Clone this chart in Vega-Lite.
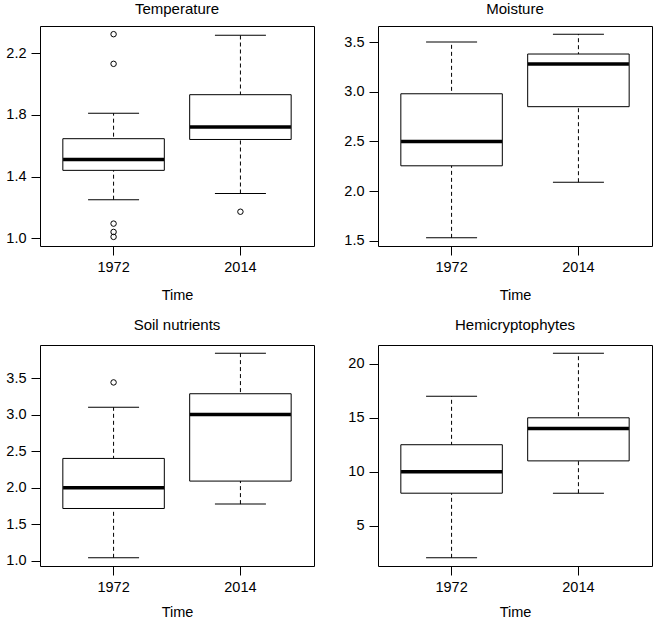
{
  "$schema": "https://vega.github.io/schema/vega-lite/v6.json",
  "padding": {"left": 3, "top": 1, "right": 2, "bottom": 0},
  "background": "white",
  "datasets": {
    "box": [
      {"panel": "Temperature", "time": "1972", "lo": 1.25, "q1": 1.44, "med": 1.51, "q3": 1.645, "hi": 1.81},
      {"panel": "Temperature", "time": "2014", "lo": 1.29, "q1": 1.64, "med": 1.72, "q3": 1.93, "hi": 2.315},
      {"panel": "Moisture", "time": "1972", "lo": 1.53, "q1": 2.255, "med": 2.5, "q3": 2.98, "hi": 3.5},
      {"panel": "Moisture", "time": "2014", "lo": 2.09, "q1": 2.85, "med": 3.28, "q3": 3.38, "hi": 3.58},
      {"panel": "Soil nutrients", "time": "1972", "lo": 1.04, "q1": 1.715, "med": 2.0, "q3": 2.4, "hi": 3.1},
      {"panel": "Soil nutrients", "time": "2014", "lo": 1.775, "q1": 2.09, "med": 3.0, "q3": 3.285, "hi": 3.84},
      {"panel": "Hemicryptophytes", "time": "1972", "lo": 2, "q1": 8, "med": 10, "q3": 12.5, "hi": 17},
      {"panel": "Hemicryptophytes", "time": "2014", "lo": 8, "q1": 11, "med": 14, "q3": 15, "hi": 21}
    ],
    "out": [
      {"panel": "Temperature", "time": "1972", "value": 2.322},
      {"panel": "Temperature", "time": "1972", "value": 2.13},
      {"panel": "Temperature", "time": "1972", "value": 1.095},
      {"panel": "Temperature", "time": "1972", "value": 1.041},
      {"panel": "Temperature", "time": "1972", "value": 1.009},
      {"panel": "Temperature", "time": "2014", "value": 1.172},
      {"panel": "Soil nutrients", "time": "1972", "value": 3.44}
    ]
  },
  "config": {
    "font": "Liberation Sans",
    "view": {"stroke": "black", "strokeWidth": 1},
    "title": {"fontSize": 15, "fontWeight": "normal", "color": "black", "offset": 9, "font": "Liberation Sans"},
    "axis": {
      "grid": false, "domain": false, "tickColor": "black", "tickSize": 9, "tickWidth": 1,
      "labelFontSize": 14.5, "labelColor": "black", "labelFont": "Liberation Sans",
      "titleFontSize": 14.5, "titleFontWeight": "normal", "titleColor": "black", "titleFont": "Liberation Sans"
    },
    "axisX": {"labelAngle": 0, "labelPadding": 5, "titlePadding": 15},
    "axisY": {"labelPadding": 5, "title": null, "minExtent": 36, "maxExtent": 36},
    "tick": {"opacity": 1},
    "point": {"opacity": 1}
  },
  "columns": 2,
  "spacing": {"row": 14, "column": 26},
  "concat": [
    {
      "title": {"text": "Temperature", "offset": 9},
      "width": 274, "height": 220,
      "encoding": {
        "x": {"field": "time", "type": "nominal", "title": "Time", "scale": {"type": "band", "paddingInner": 0.2, "paddingOuter": 0.18}, "axis": {"titlePadding": 15}}
      },
      "layer": [
        {"data": {"name": "box"}, "transform": [{"filter": "datum.panel == 'Temperature'"}],
         "mark": {"type": "rule", "color": "black", "strokeWidth": 1, "strokeDash": [4, 3]},
         "encoding": {"y": {"field": "lo", "type": "quantitative", "title": null, "scale": {"domain": [0.95, 2.375], "nice": false, "zero": false},
           "axis": {"values": [1.0, 1.2, 1.4, 1.6, 1.8, 2.0, 2.2], "labelExpr": "round(datum.value*10) % 4 == 0 ? '' : format(datum.value, '.1f')"}},
           "y2": {"field": "hi"}}},
        {"data": {"name": "box"}, "transform": [{"filter": "datum.panel == 'Temperature'"}],
         "mark": {"type": "tick", "color": "black", "size": 51, "thickness": 1, "opacity": 1},
         "encoding": {"y": {"field": "lo", "type": "quantitative"}}},
        {"data": {"name": "box"}, "transform": [{"filter": "datum.panel == 'Temperature'"}],
         "mark": {"type": "tick", "color": "black", "size": 51, "thickness": 1, "opacity": 1},
         "encoding": {"y": {"field": "hi", "type": "quantitative"}}},
        {"data": {"name": "box"}, "transform": [{"filter": "datum.panel == 'Temperature'"}],
         "mark": {"type": "bar", "fill": "white", "stroke": "black", "strokeWidth": 1, "opacity": 1},
         "encoding": {"y": {"field": "q1", "type": "quantitative"}, "y2": {"field": "q3"}}},
        {"data": {"name": "box"}, "transform": [{"filter": "datum.panel == 'Temperature'"}],
         "mark": {"type": "tick", "color": "black", "size": 101, "thickness": 3.5, "opacity": 1},
         "encoding": {"y": {"field": "med", "type": "quantitative"}}},
        {"data": {"name": "out"}, "transform": [{"filter": "datum.panel == 'Temperature'"}],
         "mark": {"type": "point", "shape": "circle", "filled": false, "stroke": "black", "strokeWidth": 1, "size": 30, "opacity": 1},
         "encoding": {"y": {"field": "value", "type": "quantitative"}}}
      ]
    },
    {
      "title": {"text": "Moisture", "offset": 9},
      "width": 274, "height": 220,
      "encoding": {
        "x": {"field": "time", "type": "nominal", "title": "Time", "scale": {"type": "band", "paddingInner": 0.2, "paddingOuter": 0.18}, "axis": {"titlePadding": 15}}
      },
      "layer": [
        {"data": {"name": "box"}, "transform": [{"filter": "datum.panel == 'Moisture'"}],
         "mark": {"type": "rule", "color": "black", "strokeWidth": 1, "strokeDash": [4, 3]},
         "encoding": {"y": {"field": "lo", "type": "quantitative", "title": null, "scale": {"domain": [1.448, 3.662], "nice": false, "zero": false},
           "axis": {"values": [1.5, 2.0, 2.5, 3.0, 3.5], "format": ".1f"}},
           "y2": {"field": "hi"}}},
        {"data": {"name": "box"}, "transform": [{"filter": "datum.panel == 'Moisture'"}],
         "mark": {"type": "tick", "color": "black", "size": 51, "thickness": 1, "opacity": 1},
         "encoding": {"y": {"field": "lo", "type": "quantitative"}}},
        {"data": {"name": "box"}, "transform": [{"filter": "datum.panel == 'Moisture'"}],
         "mark": {"type": "tick", "color": "black", "size": 51, "thickness": 1, "opacity": 1},
         "encoding": {"y": {"field": "hi", "type": "quantitative"}}},
        {"data": {"name": "box"}, "transform": [{"filter": "datum.panel == 'Moisture'"}],
         "mark": {"type": "bar", "fill": "white", "stroke": "black", "strokeWidth": 1, "opacity": 1},
         "encoding": {"y": {"field": "q1", "type": "quantitative"}, "y2": {"field": "q3"}}},
        {"data": {"name": "box"}, "transform": [{"filter": "datum.panel == 'Moisture'"}],
         "mark": {"type": "tick", "color": "black", "size": 101, "thickness": 3.5, "opacity": 1},
         "encoding": {"y": {"field": "med", "type": "quantitative"}}}
      ]
    },
    {
      "title": {"text": "Soil nutrients", "offset": 12},
      "width": 274, "height": 221,
      "encoding": {
        "x": {"field": "time", "type": "nominal", "title": "Time", "scale": {"type": "band", "paddingInner": 0.2, "paddingOuter": 0.18}, "axis": {"titlePadding": 12}}
      },
      "layer": [
        {"data": {"name": "box"}, "transform": [{"filter": "datum.panel == 'Soil nutrients'"}],
         "mark": {"type": "rule", "color": "black", "strokeWidth": 1, "strokeDash": [4, 3]},
         "encoding": {"y": {"field": "lo", "type": "quantitative", "title": null, "scale": {"domain": [0.928, 3.952], "nice": false, "zero": false},
           "axis": {"values": [1.0, 1.5, 2.0, 2.5, 3.0, 3.5], "format": ".1f"}},
           "y2": {"field": "hi"}}},
        {"data": {"name": "box"}, "transform": [{"filter": "datum.panel == 'Soil nutrients'"}],
         "mark": {"type": "tick", "color": "black", "size": 51, "thickness": 1, "opacity": 1},
         "encoding": {"y": {"field": "lo", "type": "quantitative"}}},
        {"data": {"name": "box"}, "transform": [{"filter": "datum.panel == 'Soil nutrients'"}],
         "mark": {"type": "tick", "color": "black", "size": 51, "thickness": 1, "opacity": 1},
         "encoding": {"y": {"field": "hi", "type": "quantitative"}}},
        {"data": {"name": "box"}, "transform": [{"filter": "datum.panel == 'Soil nutrients'"}],
         "mark": {"type": "bar", "fill": "white", "stroke": "black", "strokeWidth": 1, "opacity": 1},
         "encoding": {"y": {"field": "q1", "type": "quantitative"}, "y2": {"field": "q3"}}},
        {"data": {"name": "box"}, "transform": [{"filter": "datum.panel == 'Soil nutrients'"}],
         "mark": {"type": "tick", "color": "black", "size": 101, "thickness": 3.5, "opacity": 1},
         "encoding": {"y": {"field": "med", "type": "quantitative"}}},
        {"data": {"name": "out"}, "transform": [{"filter": "datum.panel == 'Soil nutrients'"}],
         "mark": {"type": "point", "shape": "circle", "filled": false, "stroke": "black", "strokeWidth": 1, "size": 30, "opacity": 1},
         "encoding": {"y": {"field": "value", "type": "quantitative"}}}
      ]
    },
    {
      "title": {"text": "Hemicryptophytes", "offset": 12},
      "width": 274, "height": 221,
      "encoding": {
        "x": {"field": "time", "type": "nominal", "title": "Time", "scale": {"type": "band", "paddingInner": 0.2, "paddingOuter": 0.18}, "axis": {"titlePadding": 12}}
      },
      "layer": [
        {"data": {"name": "box"}, "transform": [{"filter": "datum.panel == 'Hemicryptophytes'"}],
         "mark": {"type": "rule", "color": "black", "strokeWidth": 1, "strokeDash": [4, 3]},
         "encoding": {"y": {"field": "lo", "type": "quantitative", "title": null, "scale": {"domain": [1.24, 21.76], "nice": false, "zero": false},
           "axis": {"values": [5, 10, 15, 20], "format": "d"}},
           "y2": {"field": "hi"}}},
        {"data": {"name": "box"}, "transform": [{"filter": "datum.panel == 'Hemicryptophytes'"}],
         "mark": {"type": "tick", "color": "black", "size": 51, "thickness": 1, "opacity": 1},
         "encoding": {"y": {"field": "lo", "type": "quantitative"}}},
        {"data": {"name": "box"}, "transform": [{"filter": "datum.panel == 'Hemicryptophytes'"}],
         "mark": {"type": "tick", "color": "black", "size": 51, "thickness": 1, "opacity": 1},
         "encoding": {"y": {"field": "hi", "type": "quantitative"}}},
        {"data": {"name": "box"}, "transform": [{"filter": "datum.panel == 'Hemicryptophytes'"}],
         "mark": {"type": "bar", "fill": "white", "stroke": "black", "strokeWidth": 1, "opacity": 1},
         "encoding": {"y": {"field": "q1", "type": "quantitative"}, "y2": {"field": "q3"}}},
        {"data": {"name": "box"}, "transform": [{"filter": "datum.panel == 'Hemicryptophytes'"}],
         "mark": {"type": "tick", "color": "black", "size": 101, "thickness": 3.5, "opacity": 1},
         "encoding": {"y": {"field": "med", "type": "quantitative"}}}
      ]
    }
  ]
}
